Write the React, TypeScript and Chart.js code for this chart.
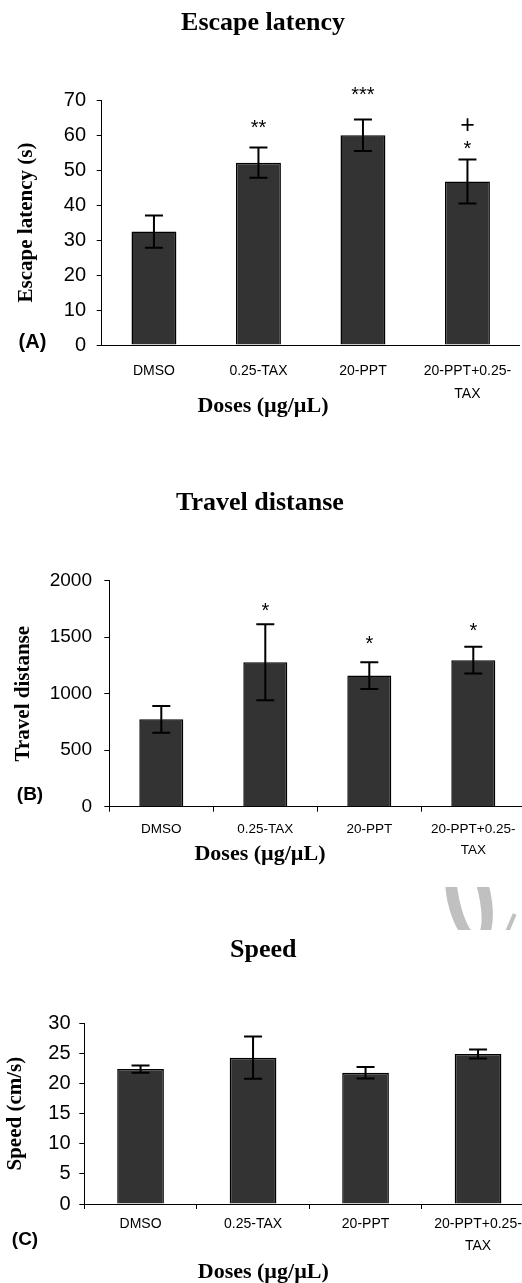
import React, { useEffect, useRef } from 'react';
import { Chart, registerables } from 'chart.js';

Chart.register(...registerables);

const SANS = '"Liberation Sans", Arial, Helvetica, sans-serif';
const SERIF = '"Liberation Serif", "Times New Roman", Times, serif';

// ---- data ----
const doseLabels: (string | string[])[] = ['DMSO', '0.25-TAX', '20-PPT', ['20-PPT+0.25-', 'TAX']];
const doseAxisTitle = 'Doses (µg/µL)';

// (A) Escape latency
const latencyMeans = [32.4, 52.1, 59.9, 46.7];
const latencyErrors = [4.6, 4.3, 4.5, 6.3];
const latencyMarks = [[], ['**'], ['***'], ['*', '+']];
const latencyTicks = [0, 10, 20, 30, 40, 50, 60, 70];

// (B) Travel distance
const distanceMeans = [773, 1278, 1160, 1297];
const distanceErrors = [118, 336, 118, 118];
const distanceMarks = [[], ['*'], ['*'], ['*']];
const distanceTicks = [0, 500, 1000, 1500, 2000];

// (C) Speed
const speedMeans = [22.4, 24.3, 21.8, 24.9];
const speedErrors = [0.6, 3.5, 0.95, 0.75];
const speedMarks = [[], [], [], []];
const speedTicks = [0, 5, 10, 15, 20, 25, 30];

// ---- layout ----
const CANVAS_W = 560;
const CANVAS_LEFT = -20;

type PanelSpec = {
  key: string;
  top: number;
  height: number;
  title: string;
  yTitle: string;
  means: number[];
  errors: number[];
  marks: string[][];
  ticks: number[];
  padLeft: number;
  padRight: number;
  yWidth: number;
  yTitlePad: number;
  yTickPad: number;
  yFont: number;
  titlePadTop: number;
  titlePadBottom: number;
  xHeight: number;
  xTickPad: number;
  xFont: number;
  xLineHeight: number;
  xTickMarks: boolean;
  subPadTop: number;
  subPadBottom: number;
  barPct: number;
  markGaps: number[];
  markStep: number;
  panelLabel: { text: string; x: number; y: number; size: number };
};

const panels: PanelSpec[] = [
  {
    key: 'A', top: 0, height: 422,
    title: 'Escape latency', yTitle: 'Escape latency (s)',
    means: latencyMeans, errors: latencyErrors, marks: latencyMarks, ticks: latencyTicks,
    padLeft: 26.3, padRight: 20.3, yWidth: 95.4, yTitlePad: 8.1, yTickPad: 10.7, yFont: 20,
    titlePadTop: 7.4, titlePadBottom: 61.4,
    xHeight: 58, xTickPad: 14.5, xFont: 14, xLineHeight: 23 / 14, xTickMarks: false,
    subPadTop: -10.2, subPadBottom: 2.8,
    barPct: 0.43, markGaps: [20, 24, 29, 15], markStep: 18,
    panelLabel: { text: '(A)', x: 52.5, y: 342, size: 20 },
  },
  {
    key: 'B', top: 440, height: 430,
    title: 'Travel distanse', yTitle: 'Travel distanse',
    means: distanceMeans, errors: distanceErrors, marks: distanceMarks, ticks: distanceTicks,
    padLeft: 14.7, padRight: 14.7, yWidth: 114.6, yTitlePad: 16.7, yTickPad: 12.3, yFont: 19,
    titlePadTop: 47.4, titlePadBottom: 62.1,
    xHeight: 52, xTickPad: 7.3, xFont: 13.5, xLineHeight: 21 / 13.5, xTickMarks: true,
    subPadTop: -17.9, subPadBottom: 2.8,
    barPct: 0.423, markGaps: [17, 17, 22, 19.5], markStep: 18,
    panelLabel: { text: '(B)', x: 50, y: 355, size: 19 },
  },
  {
    key: 'C', top: 880, height: 408,
    title: 'Speed', yTitle: 'Speed (cm/s)',
    means: speedMeans, errors: speedErrors, marks: speedMarks, ticks: speedTicks,
    padLeft: 12.3, padRight: 5.7, yWidth: 92, yTitlePad: 10.9, yTickPad: 8.8, yFont: 20,
    titlePadTop: 54.9, titlePadBottom: 57.2,
    xHeight: 54, xTickPad: 4, xFont: 14, xLineHeight: 22 / 14, xTickMarks: true,
    subPadTop: 1.3, subPadBottom: 2.3,
    barPct: 0.415, markGaps: [17, 17, 17, 17], markStep: 18,
    panelLabel: { text: '(C)', x: 45, y: 360, size: 19 },
  },
];

const errorBarPlugin = {
  id: 'errorBars',
  afterDatasetsDraw(chart: any, _args: any, opts: any) {
    const ctx = chart.ctx;
    const meta = chart.getDatasetMeta(0);
    const yScale = chart.scales.y;
    const values = chart.data.datasets[0].data as number[];
    ctx.save();
    ctx.strokeStyle = '#000';
    ctx.lineWidth = opts.lineWidth;
    meta.data.forEach((bar: any, i: number) => {
      const e = opts.errors[i];
      const x = bar.x;
      const top = yScale.getPixelForValue(values[i] + e);
      const bot = yScale.getPixelForValue(values[i] - e);
      ctx.beginPath();
      ctx.moveTo(x, top);
      ctx.lineTo(x, bot);
      ctx.moveTo(x - opts.cap, top);
      ctx.lineTo(x + opts.cap, top);
      ctx.moveTo(x - opts.cap, bot);
      ctx.lineTo(x + opts.cap, bot);
      ctx.stroke();
      const marks: string[] = opts.marks[i] || [];
      ctx.fillStyle = '#000';
      ctx.textAlign = 'center';
      ctx.textBaseline = 'middle';
      marks.forEach((m, k) => {
        const cy = top - opts.gaps[i] - k * opts.step;
        const star = m.includes('*');
        const size = star ? opts.starSize : opts.plusSize;
        ctx.font = `${size}px ${SANS}`;
        ctx.fillText(m, x, cy + (star ? 0.23 * size : 0));
      });
    });
    const pl = opts.panel;
    ctx.font = `bold ${pl.size}px ${SANS}`;
    ctx.textAlign = 'center';
    ctx.textBaseline = 'middle';
    ctx.fillStyle = '#000';
    ctx.fillText(pl.text, pl.x, pl.y);
    ctx.restore();
  },
};

function buildConfig(p: PanelSpec): any {
  return {
    type: 'bar',
    data: {
      labels: doseLabels,
      datasets: [
        {
          data: p.means,
          backgroundColor: '#333333',
          borderColor: '#000000',
          borderWidth: 1.5,
          barPercentage: p.barPct,
          categoryPercentage: 1,
        },
      ],
    },
    options: {
      animation: false,
      responsive: false,
      maintainAspectRatio: false,
      layout: { padding: { left: p.padLeft, right: p.padRight, top: 0, bottom: 0 } },
      plugins: {
        legend: { display: false },
        tooltip: { enabled: false },
        title: {
          display: true,
          text: p.title,
          color: '#000',
          font: { family: SERIF, size: 26, weight: 'bold', lineHeight: 1.2 },
          padding: { top: p.titlePadTop, bottom: p.titlePadBottom },
        },
        subtitle: {
          display: true,
          position: 'bottom',
          text: doseAxisTitle,
          color: '#000',
          font: { family: SERIF, size: 22, weight: 'bold', lineHeight: 1.2 },
          padding: { top: p.subPadTop, bottom: p.subPadBottom },
        },
        errorBars: {
          errors: p.errors,
          marks: p.marks,
          lineWidth: 2,
          cap: 9,
          gaps: p.markGaps,
          step: p.markStep,
          starSize: 20,
          plusSize: 25,
          panel: p.panelLabel,
        },
      },
      scales: {
        x: {
          grid: {
            display: p.xTickMarks,
            drawOnChartArea: false,
            drawTicks: p.xTickMarks,
            tickLength: 5,
            color: '#000',
            tickColor: '#000',
            offset: true,
          },
          border: { display: true, color: '#000', width: 1 },
          ticks: {
            color: '#000',
            font: { family: SANS, size: p.xFont, lineHeight: p.xLineHeight },
            padding: p.xTickPad,
            maxRotation: 0,
            minRotation: 0,
            autoSkip: false,
          },
          afterFit: (s: any) => {
            s.height = p.xHeight;
          },
        },
        y: {
          min: p.ticks[0],
          max: p.ticks[p.ticks.length - 1],
          afterBuildTicks: (s: any) => {
            s.ticks = p.ticks.map((v) => ({ value: v }));
          },
          ticks: {
            color: '#000',
            font: { family: SANS, size: p.yFont },
            padding: p.yTickPad,
            callback: (v: any) => String(v),
          },
          grid: {
            display: true,
            drawOnChartArea: false,
            drawTicks: true,
            tickLength: 5,
            color: '#000',
            tickColor: '#000',
          },
          border: { display: true, color: '#000', width: 1 },
          title: {
            display: true,
            text: p.yTitle,
            color: '#000',
            font: { family: SERIF, size: 21, weight: 'bold', lineHeight: 1.2 },
            padding: { top: p.yTitlePad, bottom: 0 },
          },
          afterFit: (s: any) => {
            s.width = p.yWidth;
          },
        },
      },
    },
    plugins: [errorBarPlugin],
  };
}

function Panel({ spec }: { spec: PanelSpec }) {
  const ref = useRef<HTMLCanvasElement>(null);
  useEffect(() => {
    if (!ref.current) return;
    const chart = new Chart(ref.current, buildConfig(spec));
    return () => chart.destroy();
  }, [spec]);
  return (
    <canvas
      ref={ref}
      width={CANVAS_W}
      height={spec.height}
      style={{
        position: 'absolute',
        left: CANVAS_LEFT,
        top: spec.top,
        width: CANVAS_W,
        height: spec.height,
        display: 'block',
      }}
    />
  );
}

export default function App() {
  return (
    <div
      style={{
        position: 'absolute',
        left: 0,
        top: 0,
        width: 522,
        height: 1283,
        overflow: 'hidden',
        background: '#fff',
      }}
    >
      {panels.map((p) => (
        <Panel key={p.key} spec={p} />
      ))}
      {/* faint watermark fragment */}
      <div
        style={{
          position: 'absolute',
          left: 440,
          top: 887,
          width: 82,
          height: 43,
          overflow: 'hidden',
        }}
      >
        <div
          style={{
            position: 'absolute',
            left: 7,
            top: -40,
            width: 44,
            height: 100,
            borderRadius: '50%',
            border: '12px solid #c0c0c0',
            boxSizing: 'border-box',
            transform: 'rotate(-12deg)',
          }}
        />
        <div
          style={{
            position: 'absolute',
            left: 68,
            top: 26,
            width: 4,
            height: 24,
            background: '#c0c0c0',
            transform: 'rotate(23deg)',
          }}
        />
      </div>
    </div>
  );
}
